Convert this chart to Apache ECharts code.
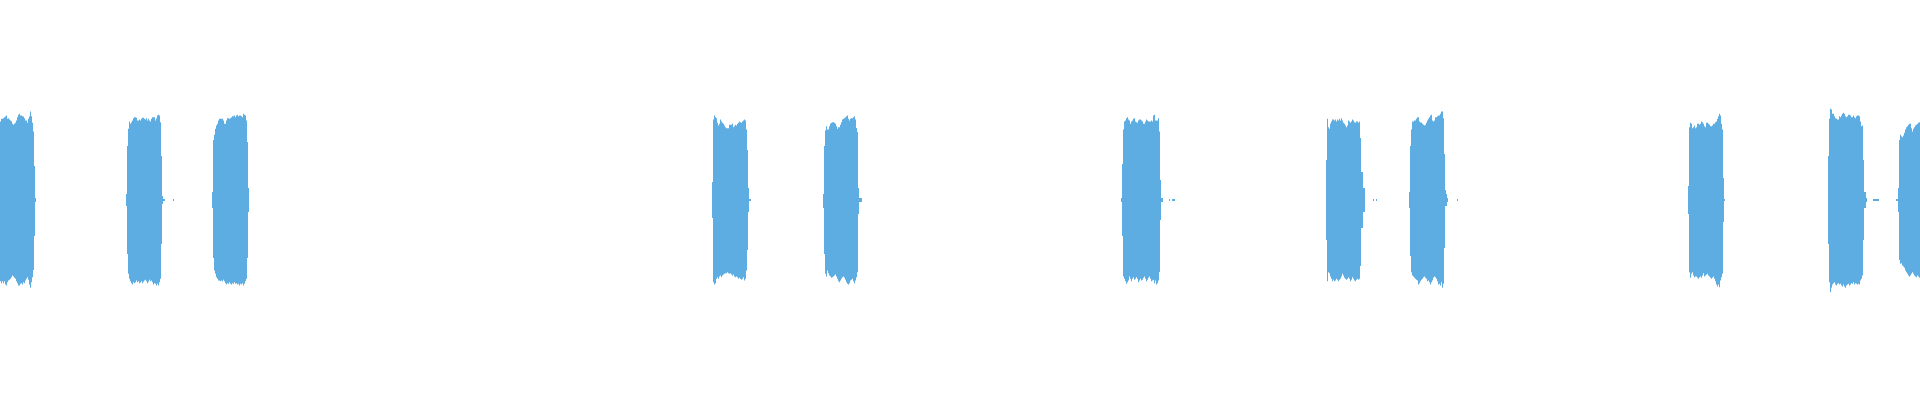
<!DOCTYPE html>
<html>
<head>
<meta charset="utf-8">
<title>Waveform</title>
<script src="https://cdn.jsdelivr.net/npm/echarts@6/dist/echarts.min.js"></script>
<style>
  html, body { margin: 0; padding: 0; background: #fff; }
  #main { width: 1920px; height: 400px; }
</style>
</head>
<body>
<div id="main"></div>
<script>
// peaks per time step (amplitude in %), one pair of arrays per burst
const burstStarts = [0, 126, 212, 712, 823, 1121, 1326, 1409, 1688, 1828, 1898]

const highA = [39.3,40.6,40.6,40.9,41.4,41.8,42.3,40.6,40.9,40.3,39.8,39.4,38.1,37.6,38.1,38.6,39.8,41.4,42.6,43.1,42.3,42.3,41.9,41.8,40.9,39.8,39.8,38.6,40.6,41.8,44.3,41.9,38.6,34.3,17,1]
const lowA = [-40.6,-41.6,-40.6,-41.6,-40.6,-42.3,-42.8,-41.1,-40.3,-39.9,-39.4,-38.6,-37.8,-38.3,-38.9,-39.4,-40.6,-41.6,-42.8,-42.8,-41.9,-41.6,-42.3,-41.1,-41.6,-40.3,-39.4,-38.6,-39.9,-42.3,-43.9,-41.1,-38.6,-35,-18,-1]

const highB = [3,27,35.6,39.3,38.1,38.9,39.8,40.9,41.4,41.4,41.1,39.8,39.8,40.3,39.8,40.6,41.1,41.1,40.6,40.3,40.9,39.8,40.6,39.8,39.3,40.6,41.4,41.4,41.4,39.8,40.9,42.3,42.6,42.3,38.9,22,2,0.5,0.5,0,0,0,0,0,0,0,0,0.5]
const lowB = [-3,-27,-36.9,-39.4,-40.6,-41.6,-42.3,-41.1,-41.6,-41.1,-40.3,-41.1,-40.6,-41.6,-41.3,-40.6,-41.6,-40.9,-40.3,-39.9,-40.6,-41.6,-40.9,-39.9,-40.6,-40.3,-41.1,-42.3,-41.6,-41.9,-42.8,-41.9,-42.8,-41.1,-39.4,-22,-2,-0.5,-0.5,0,0,0,0,0,0,0,0,-0.5]

const highC = [4,30,32.6,35.6,37.3,38.1,39.8,40.6,40.6,40.6,40.6,39.8,38.1,38.1,39.8,40.9,40.9,40.6,40.9,41.4,41.9,41.9,42.3,41.4,42.3,42.6,41.9,42.3,42.3,41.9,41.4,43.1,42.6,42.3,39.8,29,6]
const lowC = [-4,-29,-35.3,-36.9,-38.6,-39.4,-40.3,-40.3,-40.6,-40.3,-40.6,-39.9,-40.6,-41.6,-42.3,-41.6,-41.9,-41.1,-41.9,-42.3,-41.6,-41.9,-41.1,-41.9,-41.6,-42.3,-41.9,-42.8,-41.9,-42.3,-41.6,-42.8,-41.9,-40.6,-39.4,-29,-6]

const highD = [9,40.3,42.3,41.4,40.9,38.6,37.3,38.1,40.3,39.3,38.6,38.1,37.3,36.4,35.9,35.9,35.9,37.6,37.6,37.6,38.1,36.4,36.9,37.6,37.3,38.1,38.6,39.3,38.9,38.6,39.3,39.8,40.3,39.8,35.3,25,6,0.5,0.5]
const lowD = [-9,-41.1,-42.3,-41.6,-39.4,-38.6,-39.4,-38.3,-37.8,-38.6,-37.8,-37.3,-36.9,-36.6,-36.6,-36.1,-36.6,-36.9,-36.6,-37.3,-37.8,-37.3,-38.3,-38.6,-38.3,-38.6,-39.4,-38.9,-39.4,-39.9,-39.4,-38.6,-40.3,-39.4,-35.3,-25,-6,-0.5,-0.5]

const highE = [3,27,34.8,36.9,35.3,35.3,36.9,38.1,38.6,38.9,38.9,38.6,38.1,36.9,35.6,36.4,36.4,37.6,38.9,40.3,40.6,40.9,41.4,41.9,42.3,40.6,39.8,40.6,40.9,40.9,41.4,41.9,40.3,36,34,6,1,1,1]
const lowE = [-4,-27,-36.9,-38.3,-35.3,-36.6,-37.8,-38.3,-38.9,-38.6,-38.3,-37.8,-37.3,-38.3,-39.4,-40.6,-41.1,-40.3,-39.4,-38.6,-38.3,-38.9,-39.9,-41.1,-41.9,-42.3,-41.6,-40.3,-39.9,-39.4,-40.6,-41.6,-40.3,-38.6,-36.1,-7,-1,-1,-1]

const highF = [1,18,35.3,39.3,39.8,40.9,41.4,40.3,39.8,38.1,39.3,39.8,40.6,40.9,39.3,38.9,38.6,39.8,40.3,40.3,39.8,39.3,38.1,38.1,39.3,40.3,39.8,39.3,39.3,39.3,39.8,39.3,42.3,42.6,39.8,39.8,39.8,40.9,34.3,10,1,1,0,0,0,0,0,0,0.5,0,0,0.5,0.5,0.5]
const lowF = [-1,-18,-38.3,-39.4,-40.6,-41.9,-41.1,-40.3,-38.3,-39.4,-40.6,-39.4,-38.6,-39.9,-39.4,-38.6,-39.4,-41.1,-40.3,-39.4,-40.3,-39.9,-38.9,-38.3,-39.4,-40.6,-39.9,-38.9,-38.3,-39.4,-40.6,-40.3,-39.9,-41.6,-40.3,-42.3,-41.6,-40.3,-36,-10,-1,-1,0,0,0,0,0,0,-0.5,0,0,-0.5,-0.5,-0.5]

const highG = [20,40.6,36.4,35.6,38.1,39.3,40.3,40.3,39.8,40.3,39.3,40.3,39.8,40.6,39.8,40.9,39.8,38.6,38.1,37.3,36.4,37.3,39.8,39.3,38.6,39.3,40.3,39.8,38.9,38.6,39.3,39.3,38.6,39.3,31,14,14,6,6,0,0,0,0,0,0,0,0,0.5,0,0,0.5]
const lowG = [-20,-40.6,-36.1,-36.6,-38.3,-39.4,-40.6,-39.9,-40.6,-40.3,-39.4,-39.9,-40.6,-39.9,-39.4,-38.3,-36.9,-37.8,-38.9,-39.4,-39.9,-39.4,-38.6,-39.4,-40.6,-39.9,-38.6,-39.4,-40.3,-40.6,-39.9,-39.4,-39.9,-39.4,-33,-14,-14,-6,-6,0,0,0,0,0,0,0,0,-0.5,0,0,-0.5]

const highH = [4,27,35.3,39.3,39.3,39.8,39.8,40.6,41.4,41.4,39.3,38.9,38.6,38.1,37.6,37.3,37.6,38.6,39.8,40.6,41.4,42.3,42.6,39.8,39.3,39.8,41.4,41.4,41.9,42.3,42.3,43.1,44.3,44.3,40.9,23,5,3,1,0,0,0,0,0,0,0,0,0,0.5]
const lowH = [-4,-28,-36.1,-37.8,-38.3,-38.9,-39.4,-39.9,-40.3,-42.3,-41.6,-40.6,-39.9,-39.4,-38.6,-38.3,-38.9,-39.4,-40.6,-40.3,-41.1,-42.3,-41.1,-40.3,-38.9,-38.3,-38.6,-39.4,-40.6,-42.3,-41.9,-42.8,-41.1,-43.9,-41.9,-24,-3,-3,-1,0,0,0,0,0,0,0,0,0,-0.5]

const highI = [7,36.4,38.6,38.1,35.9,36.4,37.3,35.9,36.4,38.1,38.1,37.6,38.1,39.3,38.9,38.1,36.9,36.4,38.6,38.6,38.1,37.6,36.9,36.9,37.3,38.1,38.1,38.9,39.3,40.6,41.9,43.1,42.3,38.1,35.3,11,0.5]
const lowI = [-7,-36.1,-38.9,-36.9,-36.1,-37.8,-38.6,-38.3,-38.3,-38.9,-39.4,-38.6,-38.3,-38.9,-37.8,-36.6,-38.3,-37.8,-37.3,-36.9,-37.8,-38.3,-38.9,-39.4,-38.9,-38.3,-39.4,-40.6,-42.3,-43.3,-42.3,-43.6,-40.3,-38.6,-36.9,-11,-0.5]

const highJ = [22,40.6,45.6,45.3,43.1,43.1,41.9,40.9,40.6,40.3,40.3,41.9,41.4,42.3,43.1,43.6,43.1,41.9,41.4,41.9,42.6,42.6,42.3,41.4,41.4,42.3,41.4,40.9,41.9,42.3,42.3,41.9,39.3,36.9,37.3,20,4,4,1,0,0,0,0,0,0,0.5,0.5,0.5,0.5,0.5,0.5,0,0,0,0,0,0,0,0,0,0,0,0,0,0,0,0,0,0.5,0.5]
const lowJ = [-22,-41.1,-46.1,-43.9,-42.3,-41.6,-41.1,-42.3,-42.8,-41.9,-41.6,-42.3,-41.9,-42.8,-43.3,-42.3,-43.3,-43.9,-42.8,-42.3,-41.9,-42.8,-42.3,-41.6,-41.9,-41.1,-42.3,-41.6,-41.9,-42.3,-41.9,-42.3,-40.3,-39.4,-37.8,-20,-4,-4,-1,0,0,0,0,0,0,-0.5,-0.5,-0.5,-0.5,-0.5,-0.5,0,0,0,0,0,0,0,0,0,0,0,0,0,0,0,0,0,-0.5,-0.5]

const highK = [6,30,32.6,31.9,31.4,32.3,33.6,35.3,36.4,36.9,37.6,38.1,38.1,35.9,34.3,35.6,36.4,37.3,37.6,38.1,38.6,38.9]
const lowK = [-6,-30,-31.9,-31.6,-32.8,-33.3,-33.9,-35.3,-36.1,-36.9,-37.8,-38.3,-37.8,-36.9,-36.1,-36.9,-37.8,-38.3,-38.6,-37.8,-38.3,-38.9]

const highs = [highA, highB, highC, highD, highE, highF, highG, highH, highI, highJ, highK]
const lows = [lowA, lowB, lowC, lowD, lowE, lowF, lowG, lowH, lowI, lowJ, lowK]
const waveColor = '#5dade2'

// [t, t + 1, high, low] for every non-silent step
let peaks = []
burstStarts.forEach((start, b) => {
    highs[b].forEach((h, i) => {
        if (h === 0 && lows[b][i] === 0) return
        peaks.push([start + i, start + i + 1, h, lows[b][i]])
    })
})

var myChart = echarts.init(document.getElementById('main'))

function renderPeak(params, api) {
    let p1 = api.coord([api.value(0), api.value(2)])
    let p2 = api.coord([api.value(1), api.value(3)])
    return {
        type: 'rect',
        shape: { x: p1[0], y: p1[1], width: p2[0] - p1[0], height: p2[1] - p1[1] },
        style: { fill: waveColor }
    }
}

let option = {
    animation: false,
    grid: { left: 0, right: 0, top: 0, bottom: 0 },
    xAxis: { type: 'value', min: 0, max: 1920, show: false },
    yAxis: { type: 'value', min: -100, max: 100, show: false },
    series: [{
        type: 'custom',
        renderItem: renderPeak,
        encode: { x: [0, 1], y: [2, 3] },
        data: peaks
    }]
}

myChart.setOption(option)
</script>
</body>
</html>
